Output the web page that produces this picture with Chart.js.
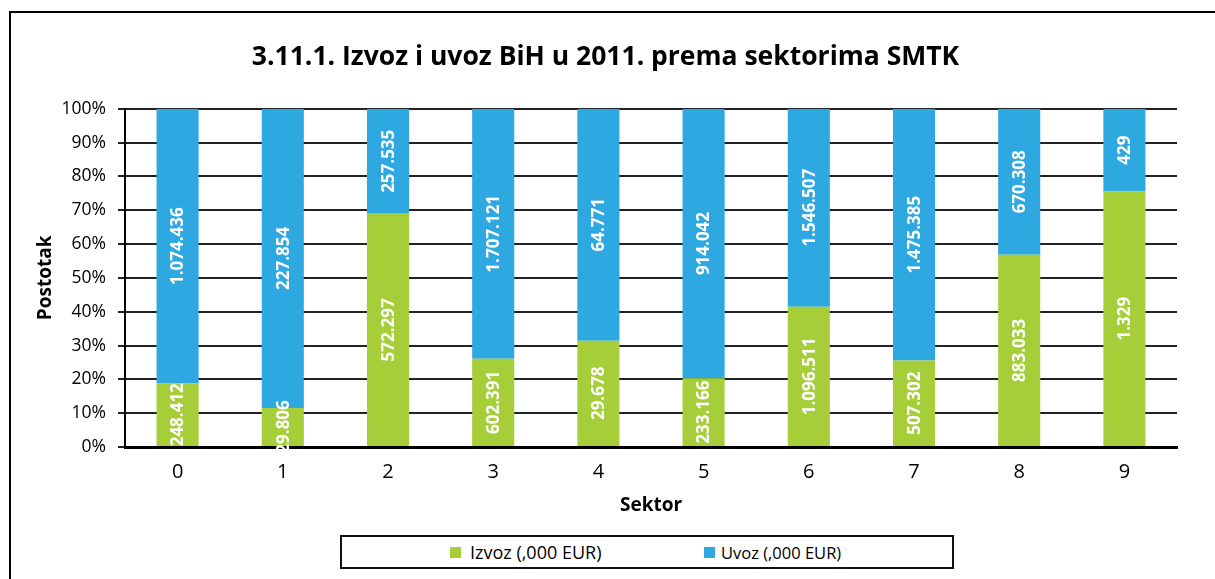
<!DOCTYPE html>
<html>
<head>
<meta charset="utf-8">
<script src="https://cdn.jsdelivr.net/npm/chart.js@4/dist/chart.umd.min.js"></script>
<style>
    html, body { margin: 0; padding: 0; background: #fff; overflow: hidden; }
    #wrap { position: relative; width: 1215px; height: 579px; }
    #frame { position: absolute; left: 9px; top: 11px; width: 1300px; height: 700px;
             border-left: 2px solid #000; border-top: 2px solid #000; }
    #chartBox { position: absolute; left: 0; top: 0; width: 1215px; height: 579px; }
    #custom-legend { position: absolute; left: 340px; top: 535px; width: 610px; height: 30px;
                     border: 2px solid #111; background: #fff;
                     font-family: 'Open Sans', sans-serif; color: #000; }
    .lg-item { position: absolute; top: 0; height: 30px; display: flex; align-items: center; white-space: nowrap; }
    .lg-sw { width: 11px; height: 11px; }
</style>
</head>
<body>
<div id="wrap">
    <div id="frame"></div>
    <div id="chartBox"><canvas id="smtkChart"></canvas></div>
    <div id="custom-legend"></div>
</div>
<script>
const sektori = ['0', '1', '2', '3', '4', '5', '6', '7', '8', '9'];
const izvoz = [248412, 29806, 572297, 602391, 29678, 233166, 1096511, 507302, 883033, 1329];
const uvoz = [1074436, 227854, 257535, 1707121, 64771, 914042, 1546507, 1475385, 670308, 429];
const seriesNames = ['Izvoz (,000 EUR)', 'Uvoz (,000 EUR)'];
const colorPalette = ['#a6ce39', '#2ea8e0'];

const fmt = (n) => String(n).replace(/\B(?=(\d{3})+(?!\d))/g, '.');
const toPct = (a, b) => a.map((v, i) => v / (v + b[i]) * 100);

const rawValues = [izvoz, uvoz];

// white rotated value labels in the middle of each segment
const valueLabels = {
    id: 'valueLabels',
    afterDatasetsDraw(chart) {
        const ctx = chart.ctx;
        ctx.save();
        ctx.fillStyle = '#fff';
        ctx.font = 'bold 17px "Open Sans", sans-serif';
        ctx.textAlign = 'center';
        ctx.textBaseline = 'middle';
        chart.data.datasets.forEach((ds, di) => {
            chart.getDatasetMeta(di).data.forEach((bar, i) => {
                const cy = (bar.y + bar.base) / 2;
                ctx.save();
                ctx.translate(bar.x, cy);
                ctx.rotate(-Math.PI / 2);
                ctx.fillText(fmt(rawValues[di][i]), 0, 1);
                ctx.restore();
            });
        });
        ctx.restore();
    }
};

const ctx = document.getElementById('smtkChart').getContext('2d');
new Chart(ctx, {
    type: 'bar',
    data: {
        labels: sektori,
        datasets: [
            { label: seriesNames[0], data: toPct(izvoz, uvoz), backgroundColor: colorPalette[0] },
            { label: seriesNames[1], data: toPct(uvoz, izvoz), backgroundColor: colorPalette[1] }
        ]
    },
    options: {
        responsive: true,
        maintainAspectRatio: false,
        animation: false,
        layout: { padding: { left: 34, right: 38, top: 0, bottom: 59 } },
        datasets: { bar: { categoryPercentage: 1, barPercentage: 0.4 } },
        scales: {
            x: {
                stacked: true,
                afterFit: (s) => { s.height = 73; },
                grid: {
                    offset: true,
                    drawTicks: false,
                    lineWidth: 2,
                    color: (c) => c.index === sektori.length ? '#222' : 'rgba(0,0,0,0)'
                },
                border: { color: '#000', width: 3 },
                ticks: { color: '#000', padding: 13, font: { family: 'Open Sans', size: 20 } },
                title: {
                    display: true, text: 'Sektor', color: '#000',
                    padding: { top: 0, bottom: 3 },
                    font: { family: 'Open Sans', size: 19, weight: 'bold' }
                }
            },
            y: {
                stacked: true,
                min: 0,
                max: 100,
                afterFit: (s) => { s.width = 91; },
                grid: { color: '#222', lineWidth: 2, tickLength: 7 },
                border: { color: '#000', width: 2 },
                ticks: {
                    stepSize: 10, color: '#000', padding: 12,
                    font: { family: 'Open Sans', size: 17.5 },
                    callback: (v) => v + '%'
                },
                title: {
                    display: true, text: 'Postotak', color: '#000',
                    padding: { top: 0, bottom: 0 },
                    font: { family: 'Open Sans', size: 19, weight: 'bold' }
                }
            }
        },
        plugins: {
            legend: { display: false },
            tooltip: { enabled: false },
            title: {
                display: true,
                text: '3.11.1. Izvoz i uvoz BiH u 2011. prema sektorima SMTK',
                color: '#000',
                padding: { top: 42, bottom: 35 },
                font: { family: 'Open Sans', size: 26.5, weight: 'bold' }
            }
        }
    },
    plugins: [valueLabels]
});

// legend box below the chart, same as the original
const legendContainer = document.getElementById('custom-legend');
const legendLeft = [108, 362];
const legendGap = [9, 6];
const legendSize = [18, 16.5];
seriesNames.forEach((name, index) => {
    const item = document.createElement('div');
    item.className = 'lg-item';
    item.style.left = legendLeft[index] + 'px';
    item.innerHTML = `<div class="lg-sw" style="background-color: ${colorPalette[index]}; margin-right: ${legendGap[index]}px;"></div><span style="font-size: ${legendSize[index]}px;">${name}</span>`;
    legendContainer.appendChild(item);
});
</script>
</body>
</html>
